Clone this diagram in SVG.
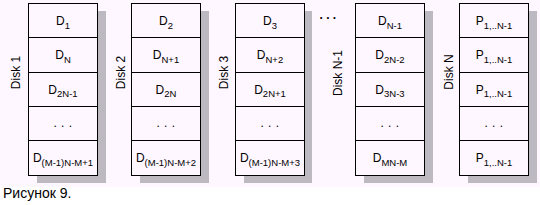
<svg xmlns="http://www.w3.org/2000/svg" width="540" height="205" viewBox="0 0 540 205">
<style>
.bg{fill:#fff7ff}
.sh{fill:#bdb9c1}
.box{fill:#fff7ff;stroke:#000;stroke-width:1}
.ln{stroke:#000;stroke-width:1}
text{font-family:"Liberation Sans",Arial,sans-serif;fill:#000}
.c{font-size:12px;text-anchor:middle}
.s{font-size:9.5px}
.dd{font-size:12px;text-anchor:middle;letter-spacing:0.5px}
.lb{font-size:12px;text-anchor:middle}
.cap{font-size:14px}
.top{font-size:12px;font-weight:bold}
</style>
<rect class="bg" x="0" y="0" width="540" height="187"/>

<g id="disk1">
<rect class="sh" x="37" y="11" width="69" height="172"/>
<rect class="box" x="28.5" y="3.5" width="69" height="172"/>
<path class="ln" d="M28.5 37.5H97.5M28.5 72.5H97.5M28.5 106.5H97.5M28.5 140.5H97.5"/>
<text class="c" x="63" y="25">D<tspan class="s" dy="3.5">1</tspan></text>
<text class="c" x="63" y="59">D<tspan class="s" dy="3.5">N</tspan></text>
<text class="c" x="63" y="93.5">D<tspan class="s" dy="3.5">2N-1</tspan></text>
<text class="dd" x="63" y="127">. . .</text>
<text class="c" x="63" y="162">D<tspan class="s" dy="3.5">(M-1)N-M+1</tspan></text>
<text class="lb" transform="translate(20,72.5) rotate(-90)">Disk 1</text>
</g>

<g id="disk2">
<rect class="sh" x="140" y="11" width="69" height="172"/>
<rect class="box" x="131.5" y="3.5" width="69" height="172"/>
<path class="ln" d="M131.5 37.5H200.5M131.5 72.5H200.5M131.5 106.5H200.5M131.5 140.5H200.5"/>
<text class="c" x="166" y="25">D<tspan class="s" dy="3.5">2</tspan></text>
<text class="c" x="166" y="59">D<tspan class="s" dy="3.5">N+1</tspan></text>
<text class="c" x="166" y="93.5">D<tspan class="s" dy="3.5">2N</tspan></text>
<text class="dd" x="166" y="127">. . .</text>
<text class="c" x="166" y="162">D<tspan class="s" dy="3.5">(M-1)N-M+2</tspan></text>
<text class="lb" transform="translate(124.5,72.5) rotate(-90)">Disk 2</text>
</g>

<g id="disk3">
<rect class="sh" x="244" y="11" width="68" height="172"/>
<rect class="box" x="235.5" y="3.5" width="69" height="172"/>
<path class="ln" d="M235.5 37.5H304.5M235.5 72.5H304.5M235.5 106.5H304.5M235.5 140.5H304.5"/>
<text class="c" x="270" y="25">D<tspan class="s" dy="3.5">3</tspan></text>
<text class="c" x="270" y="59">D<tspan class="s" dy="3.5">N+2</tspan></text>
<text class="c" x="270" y="93.5">D<tspan class="s" dy="3.5">2N+1</tspan></text>
<text class="dd" x="270" y="127">. . .</text>
<text class="c" x="270" y="162">D<tspan class="s" dy="3.5">(M-1)N-M+3</tspan></text>
<text class="lb" transform="translate(228,72.5) rotate(-90)">Disk 3</text>
</g>

<g id="ellipsis">
<text class="top" x="319.5" y="18.5">. . .</text>
</g>

<g id="diskN-1">
<rect class="sh" x="364" y="11" width="69" height="172"/>
<rect class="box" x="355.5" y="3.5" width="69" height="172"/>
<path class="ln" d="M355.5 37.5H424.5M355.5 72.5H424.5M355.5 106.5H424.5M355.5 140.5H424.5"/>
<text class="c" x="390" y="25">D<tspan class="s" dy="3.5">N-1</tspan></text>
<text class="c" x="390" y="59">D<tspan class="s" dy="3.5">2N-2</tspan></text>
<text class="c" x="390" y="93.5">D<tspan class="s" dy="3.5">3N-3</tspan></text>
<text class="dd" x="390" y="127">. . .</text>
<text class="c" x="390" y="162">D<tspan class="s" dy="3.5">MN-M</tspan></text>
<text class="lb" transform="translate(341.5,73) rotate(-90)">Disk N-1</text>
</g>

<g id="diskN">
<rect class="sh" x="468" y="11" width="69" height="172"/>
<rect class="box" x="459.5" y="3.5" width="69" height="172"/>
<path class="ln" d="M459.5 37.5H528.5M459.5 72.5H528.5M459.5 106.5H528.5M459.5 140.5H528.5"/>
<text class="c" x="494" y="25">P<tspan class="s" dy="3.5">1,..N-1</tspan></text>
<text class="c" x="494" y="59">P<tspan class="s" dy="3.5">1,..N-1</tspan></text>
<text class="c" x="494" y="93.5">P<tspan class="s" dy="3.5">1,..N-1</tspan></text>
<text class="dd" x="494" y="127">. . .</text>
<text class="c" x="494" y="162">P<tspan class="s" dy="3.5">1,..N-1</tspan></text>
<text class="lb" transform="translate(453,72) rotate(-90)">Disk N</text>
</g>

<g id="caption">
<text class="cap" x="3" y="198">Рисунок 9.</text>
</g>
</svg>
